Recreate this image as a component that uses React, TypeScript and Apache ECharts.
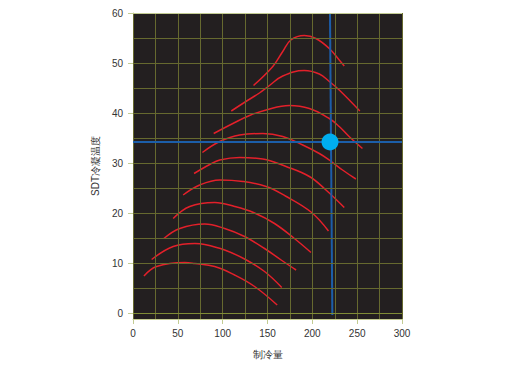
import React, { useEffect, useRef } from 'react';
import * as echarts from 'echarts';

const xTickLabels = [0, 50, 100, 150, 200, 250, 300];
const yTickLabels = [0, 10, 20, 30, 40, 50, 60];
const xGridValues = [0, 25, 50, 75, 100, 125, 150, 175, 200, 225, 250, 275, 300];
const yGridValues = [0, 5, 10, 15, 20, 25, 30, 35, 40, 45, 50, 55, 60];

const curve1 = [[12.2, 7.4], [26.3, 9.3], [57.8, 10.1], [68.9, 9.9], [91.1, 9.3], [113.3, 7.6], [135.6, 5.3], [160.8, 1.6]];
const curve2 = [[20.8, 10.7], [44.8, 13.3], [68.9, 13.9], [80, 13.7], [102.2, 12.6], [124.4, 10.8], [146.7, 8.3], [165.9, 5.1]];
const curve3 = [[34.4, 14.9], [52.2, 16.9], [80, 17.8], [102.2, 16.9], [124.4, 15.3], [146.7, 12.9], [165.2, 10.6], [181.9, 8.6]];
const curve4 = [[44.8, 18.9], [63.3, 21.3], [91.1, 22.1], [113.3, 21.3], [135.6, 20], [157.8, 17.9], [180, 14.9], [198.5, 12.1]];
const curve5 = [[55.9, 23.6], [74.4, 25.6], [96.7, 26.6], [122.6, 26.3], [148.5, 25.3], [170, 23.4], [198.5, 20.2], [218, 16.4]];
const curve6 = [[68.1, 27.9], [85.6, 29.7], [96.7, 30.6], [118.9, 31.1], [144.8, 30.8], [170.7, 29.3], [196.7, 27.3], [215.2, 24.6], [235.6, 21.1]];
const curve7 = [[77.4, 32.1], [96.7, 34.3], [118.9, 35.6], [144.8, 35.9], [167, 35.3], [189.3, 33.6], [207.8, 31.9], [218.9, 30.6], [233.7, 28.6], [248.6, 26.8]];
const curve8 = [[90, 35.9], [111.4, 37.9], [130, 39.5], [148.5, 40.6], [174.4, 41.5], [196.7, 40.9], [218.9, 38.9], [230, 37.3], [241, 35.3], [255.9, 32.9]];
const curve9 = [[109.6, 40.4], [125, 42.2], [141, 44], [152.2, 45.5], [167, 47.4], [191, 48.5], [207.8, 47.8], [218.9, 46.3], [230, 44.6], [253, 40.4]];
const curve10 = [[134.4, 45.5], [155.9, 49.3], [167, 52.3], [176, 54.6], [191, 55.5], [204, 54.9], [218.9, 52.9], [230, 50.6], [235.6, 49.4]];
const curves = [curve1, curve2, curve3, curve4, curve5, curve6, curve7, curve8, curve9, curve10];

const crossVertical = [[219.7, 60], [222.3, -0.4]];
const crossHorizontal = 34.3;
const operatingPoint = [[219.7, 34.2]];

const FONT = '"Liberation Sans", Arial, sans-serif';
const AXIS_COLOR = '#c3cc93';
const GRID_COLOR = '#66692f';
const LABEL_COLOR = '#333333';

export default function App() {
  const ref = useRef<HTMLDivElement>(null);
  useEffect(() => {
    if (!ref.current) return;
    const chart = echarts.init(ref.current, undefined, { renderer: 'svg' });
    const option: any = {
      animation: false,
      grid: { left: 133, right: 130, top: 13, bottom: 47, show: true, backgroundColor: '#231f20', borderWidth: 0 },
      xAxis: {
        type: 'value', min: 0, max: 300,
        name: '制冷量', nameLocation: 'middle', nameGap: 30,
        nameTextStyle: { fontSize: 10, color: LABEL_COLOR, fontFamily: FONT },
        axisLine: { show: true, onZero: false, lineStyle: { color: AXIS_COLOR, width: 1 } },
        axisTick: { show: true, length: 5, customValues: xTickLabels, lineStyle: { color: AXIS_COLOR } },
        axisLabel: { customValues: xTickLabels, margin: 9, fontSize: 10, color: LABEL_COLOR, fontFamily: FONT },
        splitLine: { show: false },
      },
      yAxis: {
        type: 'value', min: -1.2, max: 60,
        name: 'SDT冷凝温度', nameLocation: 'middle', nameGap: 26,
        nameTextStyle: { fontSize: 10, color: LABEL_COLOR, fontFamily: FONT },
        axisLine: { show: true, onZero: false, lineStyle: { color: AXIS_COLOR, width: 1 } },
        axisTick: { show: true, length: 5, customValues: yTickLabels, lineStyle: { color: AXIS_COLOR } },
        axisLabel: { customValues: yTickLabels, margin: 10, fontSize: 10, color: LABEL_COLOR, fontFamily: FONT },
        splitLine: { show: false },
      },
      series: [
        {
          type: 'line', data: [], z: 1, silent: true,
          markLine: {
            silent: true, symbol: ['none', 'none'], label: { show: false }, animation: false,
            lineStyle: { color: GRID_COLOR, width: 1, type: 'solid' },
            data: [
              ...xGridValues.map((v) => ({ xAxis: v })),
              ...yGridValues.map((v) => ({ yAxis: v, lineStyle: { color: v === 60 ? AXIS_COLOR : v === 0 ? '#7f8c36' : GRID_COLOR } })),
            ],
          },
        },
        ...curves.map((c) => ({
          type: 'line', data: c, smooth: 0.4, showSymbol: false, symbol: 'none', z: 2, silent: true,
          lineStyle: { color: '#e3202a', width: 1.5 },
        })),
        {
          type: 'line', data: crossVertical, showSymbol: false, symbol: 'none', z: 3, silent: true,
          lineStyle: { color: '#1c5ea9', width: 2 },
          markLine: {
            silent: true, symbol: ['none', 'none'], label: { show: false }, animation: false,
            lineStyle: { color: '#1c5ea9', width: 2, type: 'solid' },
            data: [{ yAxis: crossHorizontal }],
          },
        },
        {
          type: 'scatter', data: operatingPoint, symbol: 'circle', symbolSize: 17, z: 10, zlevel: 0, silent: true,
          itemStyle: { color: '#00aeef', opacity: 1 },
        },
      ],
    };
    chart.setOption(option);
    return () => chart.dispose();
  }, []);
  return <div ref={ref} style={{ position: 'absolute', left: 0, top: 0, width: 532, height: 366 }} />;
}
